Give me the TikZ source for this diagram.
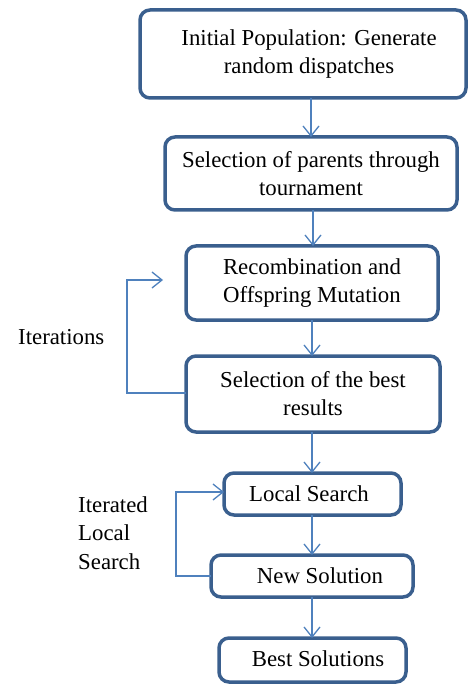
\documentclass[tikz,border=0pt]{standalone}
\usepackage{fontspec}
\setmainfont{Liberation Serif}
\usetikzlibrary{arrows.meta}
\definecolor{boxblue}{HTML}{3A5F8E}
\definecolor{linkblue}{HTML}{4F81BD}
\begin{document}
\begin{tikzpicture}[x=1pt,y=-1pt,
  stepbox/.style={draw=boxblue,line width=3.5pt,rounded corners=10pt,fill=white},
  lbl/.style={font=\fontsize{22.8}{28}\selectfont,align=center,inner sep=0pt},
  side/.style={font=\fontsize{22.8}{28}\selectfont,align=left,inner sep=0pt,anchor=west},
  link/.style={draw=linkblue,line width=1.3pt,-{Straight Barb[length=10pt,width=16pt,line width=1.3pt]}}
]
\useasboundingbox (0,0) rectangle (469,684);
% boxes
\draw[stepbox] (140,10) rectangle (466,98);
\node[lbl] (b1) at (309,54) {Initial Population: Generate\\random dispatches};
\coordinate (b1s) at (311,98);
\draw[stepbox] (165,137) rectangle (457,210);
\node[lbl] (b2) at (311,174) {Selection of parents through\\tournament};
\coordinate (b2n) at (311,137);
\coordinate (b2s) at (313,210);
\draw[stepbox] (186,246) rectangle (438,320);
\node[lbl] (b3) at (312,283) {Recombination and\\Offspring Mutation};
\coordinate (b3n) at (313,246);
\coordinate (b3s) at (312,320);
\draw[stepbox] (186,356) rectangle (440,432);
\node[lbl] (b4) at (313,394) {Selection of the best\\results};
\coordinate (b4n) at (312,356);
\coordinate (b4s) at (312,432);
\coordinate (b4w) at (186,393);
\draw[stepbox] (224,473) rectangle (401,515);
\node[lbl] (b5) at (309,494) {Local Search};
\coordinate (b5n) at (312,473);
\coordinate (b5s) at (312,515);
\coordinate (b5w) at (224,492);
\draw[stepbox] (211,555) rectangle (413,597);
\node[lbl] (b6) at (320,576) {New Solution};
\coordinate (b6n) at (312,555);
\coordinate (b6s) at (312,597);
\coordinate (b6w) at (211,576);
\draw[stepbox] (219,638) rectangle (406,682);
\node[lbl] (b7) at (318,659) {Best Solutions};
\coordinate (b7n) at (312,638);
% arrows
\draw[link] (b1s) -- (b2n);
\draw[link] (b2s) -- (b3n);
\draw[link] (b3s) -- (b4n);
\draw[link] (b4s) -- (b5n);
\draw[link] (b5s) -- (b6n);
\draw[link] (b6s) -- (b7n);
% loops
\coordinate (l1) at (163,280);
\draw[link] (b4w) -- (127,393) -- (127,280) -- (l1);
\draw[link] (b6w) -- (176,576) -- (176,492) -- (b5w);
% side labels
\node[side] (it) at (18,337) {Iterations};
\node[side,font=\fontsize{22.8}{28.5}\selectfont] (ils) at (78,533) {Iterated\\Local\\Search};
\end{tikzpicture}
\end{document}
